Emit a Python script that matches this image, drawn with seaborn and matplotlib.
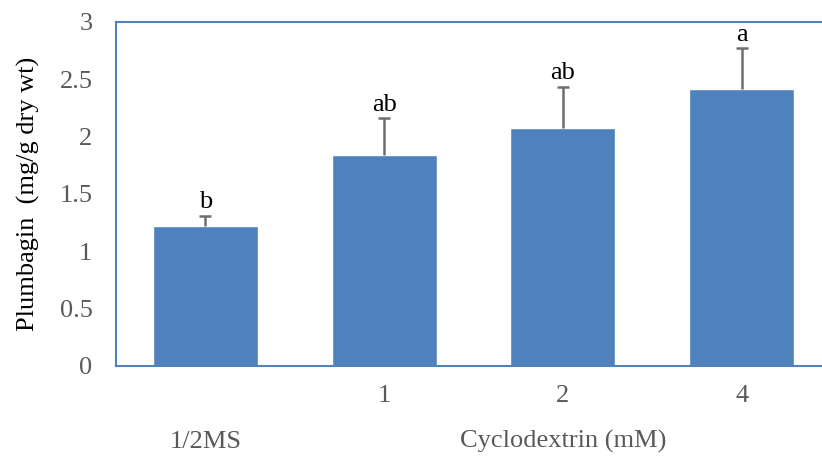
import matplotlib
matplotlib.use("Agg")
import matplotlib.pyplot as plt
import seaborn as sns
import pandas as pd

# data
groups = ["1/2MS", "1", "2", "4"]
tick_labels = ["", "1", "2", "4"]
plumbagin = [1.22, 1.84, 2.075, 2.42]
err = [0.09, 0.32, 0.36, 0.35]
letters = ["b", "ab", "ab", "a"]

df = pd.DataFrame({"group": groups, "value": plumbagin})

sns.set_style("white")
plt.rcParams["font.family"] = ["Liberation Serif", "DejaVu Serif"]

blue = "#4f81bd"
grey = "#6e6e6e"
fig = plt.figure(figsize=(8.22, 4.57), dpi=100)
ax = fig.add_axes([116 / 822, 1 - 366 / 457, 715 / 822, 344 / 457])

sns.barplot(data=df, x="group", y="value", color=blue, width=0.587,
            saturation=1, ax=ax, errorbar=None)

# upper error bars only (no cap at the bar top)
xs = list(range(len(groups)))
tops = [v + e for v, e in zip(plumbagin, err)]
ax.vlines(xs, plumbagin, tops, color=grey, linewidth=1.8)
ax.plot(xs, tops, linestyle="none", marker="_", markersize=9,
        markeredgewidth=1.8, color=grey)

for i, (t, lab) in enumerate(zip(tops, letters)):
    ax.text(i, t + 0.02, lab, ha="center", va="bottom", fontsize=19, color="black")

ax.set_ylim(0, 3)
ax.set_xlim(-0.5, 3.5)
ax.set_yticks([0, 0.5, 1, 1.5, 2, 2.5, 3])
ax.set_yticklabels(["0", "0.5", "1", "1.5", "2", "2.5", "3"])
ax.set_xticks(xs)
ax.set_xticklabels(tick_labels)
ax.tick_params(axis="both", length=0, labelsize=19, labelcolor="#595959")
ax.tick_params(axis="x", pad=14)
ax.tick_params(axis="y", pad=17)

for side in ["left", "top", "bottom", "right"]:
    ax.spines[side].set_color(blue)
    ax.spines[side].set_linewidth(1.5)

ax.set_xlabel("")
ax.set_ylabel("Plumbagin  (mg/g dry wt)", fontsize=19, color="black", labelpad=14)

# lower row of category labels
ax.text(0, -0.22, groups[0], transform=ax.get_xaxis_transform(), ha="center",
        va="center", fontsize=19, color="#595959")
ax.text(2, -0.22, "Cyclodextrin (mM)", transform=ax.get_xaxis_transform(),
        ha="center", va="center", fontsize=19, color="#595959")

fig.savefig("out.png", dpi=100)
